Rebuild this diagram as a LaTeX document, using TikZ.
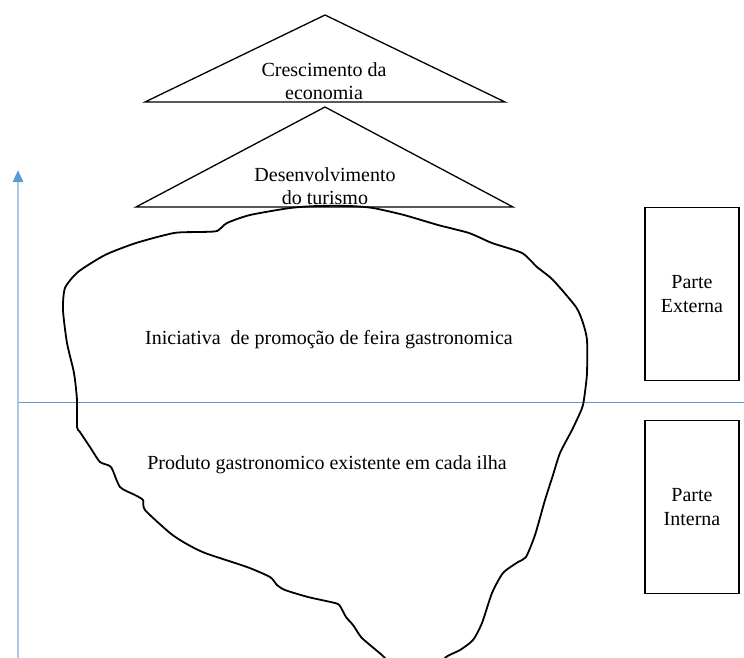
\documentclass[tikz,border=0pt]{standalone}
\usepackage{fontspec}
\setmainfont{Liberation Serif}
\usetikzlibrary{arrows.meta}
\definecolor{seablue}{RGB}{91,155,213}
\definecolor{axisblue}{RGB}{172,201,234}
\tikzset{
    txt/.style={font=\fontsize{20}{23}\selectfont, align=center, inner sep=0pt},
    layer/.style={draw, line width=1.3pt, line join=miter},
    sidebox/.style={draw, line width=1.3pt, minimum width=94pt, minimum height=173pt,
        font=\fontsize{20}{24}\selectfont, align=center, inner sep=0pt},
    iceberg/.style={line width=1.8pt, line join=round, line cap=round},
    sealevel/.style={seablue, line width=1pt},
    axisline/.style={axisblue, line width=2.5pt,
        -{Triangle[length=12pt,width=10pt,color=seablue]}}
}

\begin{document}
\begin{tikzpicture}[x=1pt,y=-1pt]
    \useasboundingbox (0,0) rectangle (744,657);
    \clip (0,0) rectangle (744,657);

    \coordinate (s1) at (18,402);
    \coordinate (s2) at (744,402);
    \draw[sealevel] (s1) -- (s2);

    \coordinate (a1) at (18,662);
    \coordinate (a2) at (18,170);
    \draw[axisline] (a1) -- (a2);

    \coordinate (t1a) at (325,15);
    \coordinate (t1b) at (145,102);
    \coordinate (t1c) at (505,102);
    \draw[layer] (t1b) -- (t1a) -- (t1c) -- cycle;
    \node[txt] (eco) at (324,81) {Crescimento da\\economia};

    \coordinate (t2a) at (325,107);
    \coordinate (t2b) at (136,207);
    \coordinate (t2c) at (513,207);
    \draw[layer] (t2b) -- (t2a) -- (t2c) -- cycle;
    \node[txt] (tur) at (325,186) {Desenvolvimento\\do turismo};

    \draw[iceberg] plot[smooth, tension=0.4] coordinates {
        (392,668) (384,657) (370,645) (361,637) (353,625) (346,617) (340,606)
        (335,603) (308,597) (285,590) (277,585) (270,577) (247,567) (205,553)
        (185,543) (170,533) (145,510) (143,500) (135,495) (120,487) (111,467)
        (100,462) (90,447) (80,432) (77,427) (77,400) (74,373) (67,343)
        (63,310) (65,288) (78,272) (105,255) (136,243) (174,233) (200,232)
        (217,231) (227,223) (250,215) (290,208) (317,206) (350,206) (373,208)
        (404,215) (438,225) (469,233) (492,243) (522,253) (537,267) (553,280)
        (576,307) (583,323) (587,340) (587,373) (585,392) (583,405) (580,413)
        (572,430) (560,453) (553,475) (545,500) (535,535) (526,557) (518,562)
        (503,573) (492,593) (482,623) (473,640) (460,650) (446,657) (438,668)};

    \node[txt] (ext) at (329,340) {Iniciativa~ de promoção de feira gastronomica};
    \node[txt] (int) at (327,465) {Produto gastronomico existente em cada ilha};

    \node[sidebox] (pe) at (692,294) {Parte\\Externa};
    \node[sidebox] (pi) at (692,507) {Parte\\Interna};
\end{tikzpicture}
\end{document}
